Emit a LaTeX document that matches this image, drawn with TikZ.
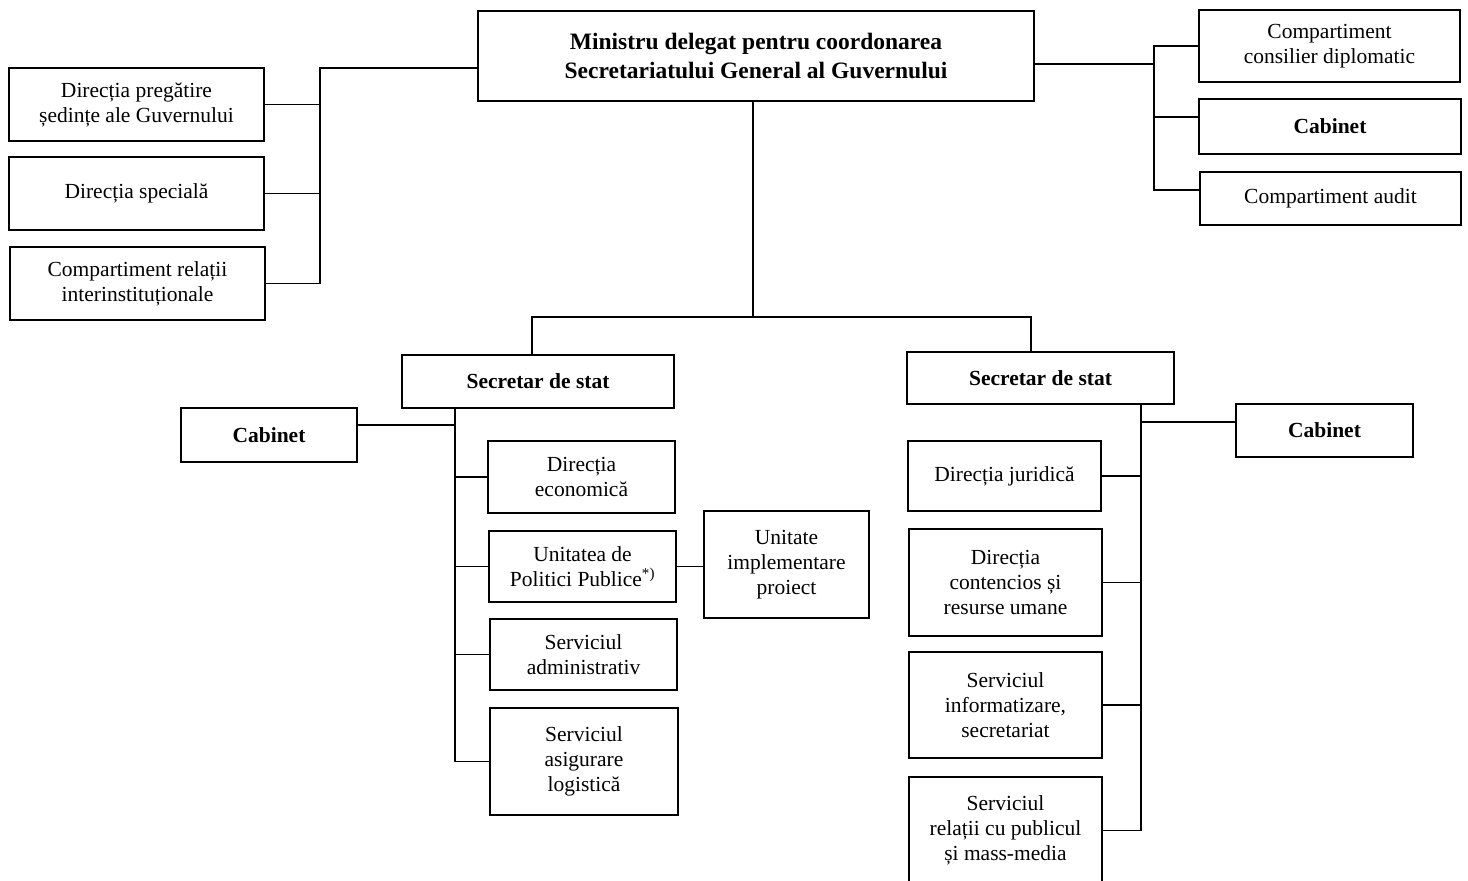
\documentclass[tikz,border=0pt]{standalone}
\usepackage{fontspec}
\setmainfont{Liberation Serif}
\begin{document}
\begin{tikzpicture}[x=1pt,y=-1pt,line width=1.4pt,
  unitbox/.style={draw,align=center,inner sep=0pt,
    font=\fontsize{21.5}{25}\selectfont},
  headbox/.style={unitbox,font=\fontsize{21.5}{25}\selectfont\bfseries}]
  \clip (0,0) rectangle (1468,881);

  \node[headbox,minimum width=556pt,minimum height=90pt,
    font=\fontsize{23.5}{29}\selectfont\bfseries] (ministru) at (756,56)
    {Ministru delegat pentru coordonarea\\Secretariatului General al Guvernului};

  \node[unitbox,minimum width=255pt,minimum height=73pt] (dirPregatire) at (136.5,104.5)
    {Direcția pregătire\\ședințe ale Guvernului};
  \node[unitbox,minimum width=255pt,minimum height=73pt] (dirSpeciala) at (136.5,193.5)
    {Direcția specială};
  \node[unitbox,minimum width=255pt,minimum height=73pt] (compRelatii) at (137.5,283.5)
    {Compartiment relații\\interinstituționale};

  \node[unitbox,minimum width=261pt,minimum height=72pt] (compDiplomatic) at (1329.5,46)
    {Compartiment\\consilier diplomatic};
  \node[headbox,minimum width=262pt,minimum height=55pt] (cabinetMin) at (1330,126.5)
    {Cabinet};
  \node[unitbox,minimum width=261pt,minimum height=53pt] (compAudit) at (1330.5,198.5)
    {Compartiment audit};

  \node[headbox,minimum width=272pt,minimum height=53pt] (secA) at (538,381.5)
    {Secretar de stat};
  \node[headbox,minimum width=176pt,minimum height=54pt] (cabinetA) at (269,435)
    {Cabinet};
  \node[unitbox,minimum width=187pt,minimum height=72pt] (dirEconomica) at (581.5,477)
    {Direcția\\economică};
  \node[unitbox,minimum width=187pt,minimum height=71pt] (unitPolitici) at (582.5,566.5)
    {Unitatea de\\Politici Publice\textsuperscript{*)}};
  \node[unitbox,minimum width=165pt,minimum height=107pt] (unitProiect) at (786.5,564.5)
    {Unitate\\implementare\\proiect};
  \node[unitbox,minimum width=187pt,minimum height=71pt] (servAdmin) at (583.5,654.5)
    {Serviciul\\administrativ};
  \node[unitbox,minimum width=188pt,minimum height=107pt] (servLogistica) at (584,761.5)
    {Serviciul\\asigurare\\logistică};

  \node[headbox,minimum width=267pt,minimum height=52pt] (secB) at (1040.5,378)
    {Secretar de stat};
  \node[headbox,minimum width=177pt,minimum height=53pt] (cabinetB) at (1324.5,430.5)
    {Cabinet};
  \node[unitbox,minimum width=193pt,minimum height=70pt] (dirJuridica) at (1004.5,476)
    {Direcția juridică};
  \node[unitbox,minimum width=193pt,minimum height=107pt] (dirContencios) at (1005.5,582.5)
    {Direcția\\contencios și\\resurse umane};
  \node[unitbox,minimum width=193pt,minimum height=106pt] (servInformatizare) at (1005.5,705)
    {Serviciul\\informatizare,\\secretariat};
  \node[unitbox,minimum width=193pt,minimum height=107pt] (servRelatii) at (1005.5,830.5)
    {Serviciul\\relații cu publicul\\și mass-media};

  \coordinate (lbus) at (320,68);
  \draw (lbus -| ministru.west) -- (lbus) |- (compRelatii.east);
  \draw (dirPregatire.east) -- (dirPregatire.east -| lbus);
  \draw (dirSpeciala.east) -- (dirSpeciala.east -| lbus);

  \coordinate (rbus) at (1154,64);
  \draw (ministru.east |- rbus) -- (rbus);
  \draw (compDiplomatic.west) -| ([yshift=8.5pt]compAudit.west -| rbus)
    -- ([yshift=8.5pt]compAudit.west);
  \draw ([yshift=9.5pt]cabinetMin.west) -- ([yshift=9.5pt]cabinetMin.west -| rbus);

  \coordinate (split) at (753,317);
  \draw (ministru.south -| split) -- (split);
  \draw ([xshift=-6pt]secA.north) |- (split) -| ([xshift=-9.5pt]secB.north);

  \coordinate (abus) at (455,0);
  \draw (secA.south -| abus) -- (abus |- servLogistica.west) -- (servLogistica.west);
  \draw ([yshift=10pt]cabinetA.east) -- ([yshift=10pt]cabinetA.east -| abus);
  \foreach \n in {dirEconomica,unitPolitici,servAdmin}
    \draw (\n.west) -- (\n.west -| abus);
  \draw (unitPolitici.east) -- (unitPolitici.east -| unitProiect.west);

  \coordinate (bbus) at (1141,0);
  \draw (secB.south -| bbus) -- (bbus |- servRelatii.east) -- (servRelatii.east);
  \draw ([yshift=8.5pt]cabinetB.west) -- ([yshift=8.5pt]cabinetB.west -| bbus);
  \foreach \n in {dirJuridica,dirContencios,servInformatizare}
    \draw (\n.east) -- (\n.east -| bbus);
\end{tikzpicture}
\end{document}
